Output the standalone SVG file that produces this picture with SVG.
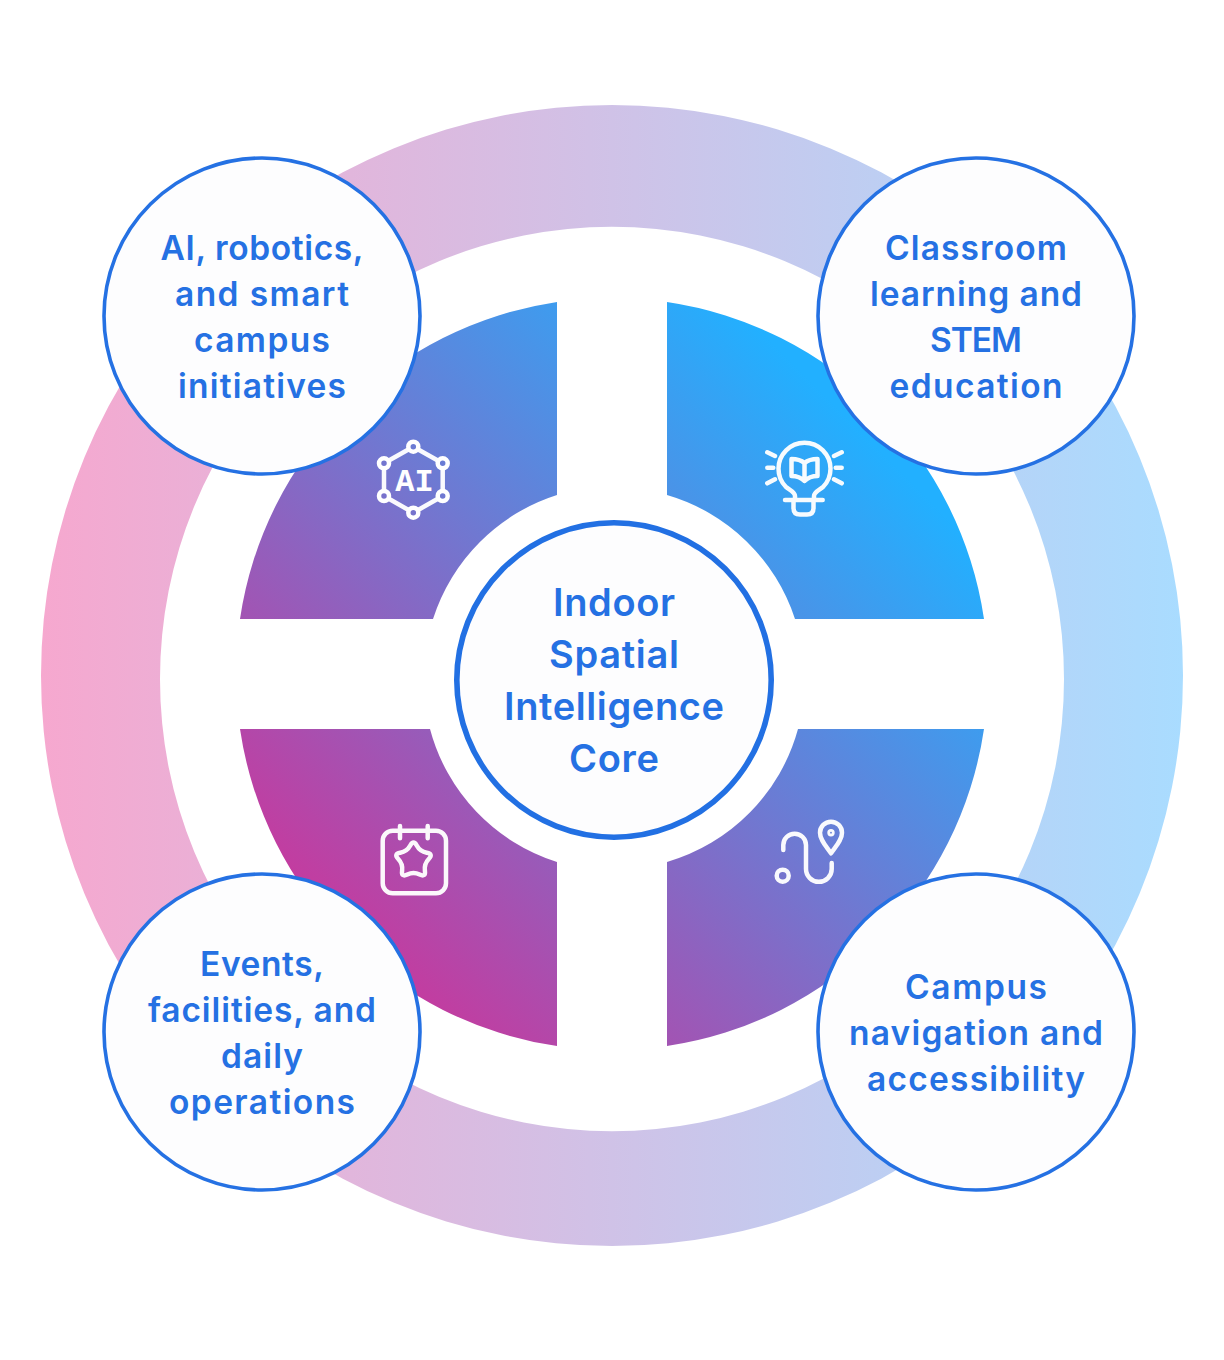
<svg xmlns="http://www.w3.org/2000/svg" width="1224" height="1360" viewBox="0 0 1224 1360">
<style>
.n{fill:#fdfdfe;stroke:#2571e3;stroke-width:3.6}
.c{fill:#fdfdfe;stroke:#2270e3;stroke-width:5.6}
text{font-family:Inter,"Noto Sans",sans-serif;font-weight:560;fill:#2571e3;text-anchor:middle}
.s{font-size:33.500px}.b{font-size:38px}
.i{fill:none;stroke:#fff;stroke-width:4.500;stroke-linecap:round;stroke-linejoin:round;opacity:.96}
</style>
<defs>
<linearGradient id="r" gradientUnits="userSpaceOnUse" x1="41" y1="0" x2="1183" y2="0"><stop offset="0" stop-color="#f6a8cf"/><stop offset="1" stop-color="#a9dcff"/></linearGradient>
<linearGradient id="q" gradientUnits="userSpaceOnUse" x1="300" y1="900" x2="815" y2="385"><stop offset="0" stop-color="#c63a9e"/><stop offset="1" stop-color="#22b0ff"/></linearGradient>
</defs>
<rect width="1224" height="1360" fill="#fff"/>
<g id="ring"><path fill="url(#r)" fill-rule="evenodd" d="M41 675.500a571 570.500 0 1 0 1142 0a571 570.500 0 1 0 -1142 0ZM160 679a452 452 0 1 1 904 0a452 452 0 1 1 -904 0Z"/></g>
<g id="quadrants" fill="url(#q)">
<path d="M557 302A376 376 0 0 0 240 619H433A191 191 0 0 1 557 495Z"/>
<path d="M667 302A376 376 0 0 1 984 619H795A191 191 0 0 0 667 495Z"/>
<path d="M240 729A376 376 0 0 0 557 1046V862A191 191 0 0 1 430 729Z"/>
<path d="M984 729A376 376 0 0 1 667 1046V862A191 191 0 0 0 798 729Z"/>
</g>
<g id="connectors"/>
<g id="icon-ai">
<path class="i" d="M413.300 446.700L442.700 463.300V496L413.300 512.700L384 496V463.300Z"/>
<g fill="url(#q)" stroke="#fff" stroke-width="4.500"><circle cx="413.300" cy="446.700" r="5"/><circle cx="442.700" cy="463.300" r="5"/><circle cx="442.700" cy="496" r="5"/><circle cx="413.300" cy="512.700" r="5"/><circle cx="384" cy="496" r="5"/><circle cx="384" cy="463.300" r="5"/></g>
<text x="414.500" y="490.700" style="font-family:'Liberation Mono',monospace;font-weight:700;font-size:32px;fill:#fff">AI</text>
</g>
<g id="icon-bulb" class="i">
<path d="M795 500V496C795 492 790 490 786 487A26 26 0 1 1 823 487C819 490 814 492 814 496V500"/>
<path d="M785 500H822.700M793.500 500V508Q793.500 514.500 800 514.500H807Q813.500 514.500 813.500 508V500"/>
<path d="M767.300 452.300L775 456M767.300 467.700H773.300M767.300 483.300L775 479.300M841.700 452.300L834 456M841.700 467.700H835.700M841.700 483.300L834 479.300"/>
<path d="M804.500 463C801 460 796 459 791.500 459V476C796 476 801 477.500 804.500 481C808 477.500 813 476 817.500 476V459C813 459 808 460 804.500 463ZM804.500 463V481"/>
</g>
<g id="icon-calendar" class="i">
<rect x="382.700" y="830.700" width="63.300" height="62.600" rx="10"/>
<path d="M400 826V838.300M427.700 826V838.300"/>
<path d="M410.250 845.550Q413.500 839.500 416.750 845.550Q420 851.600 426.750 852.800Q433.500 854 428.750 858.950Q424 863.900 424.900 870.700Q425.800 877.500 419.650 874.500Q413.500 871.500 407.350 874.500Q401.200 877.500 402.100 870.700Q403 863.900 398.250 858.950Q393.500 854 400.250 852.800Q407 851.600 410.250 845.550Z"/>
</g>
<g id="icon-route" class="i">
<circle cx="782.700" cy="875.700" r="6"/>
<path d="M783.300 850V845A11.350 11.350 0 0 1 806 845V869A12.850 12.850 0 0 0 831.700 869V863"/>
<path d="M831 853.300C826 846 820 840 820 832.700A11 11 0 0 1 842 832.700C842 840 836 846 831 853.300Z"/>
<circle cx="831" cy="832.700" r="2.300" stroke-width="2.800"/>
</g>
<g id="node-ai"><circle class="n" cx="262" cy="316" r="158"/><text class="s" x="262" y="259.700" textLength="203">AI, robotics,</text><text class="s" x="262" y="305.700" textLength="174">and smart</text><text class="s" x="262" y="351.700" textLength="136">campus</text><text class="s" x="262" y="397.700" textLength="168">initiatives</text></g>
<g id="node-classroom"><circle class="n" cx="976" cy="316" r="158"/><text class="s" x="976" y="259.700" textLength="182">Classroom</text><text class="s" x="976" y="305.700" textLength="212">learning and</text><text class="s" x="976" y="351.700" textLength="92">STEM</text><text class="s" x="976" y="397.700" textLength="173">education</text></g>
<g id="node-events"><circle class="n" cx="262" cy="1032" r="158"/><text class="s" x="262" y="975.700" textLength="124">Events,</text><text class="s" x="262" y="1021.700" textLength="228">facilities, and</text><text class="s" x="262" y="1067.700" textLength="82">daily</text><text class="s" x="262" y="1113.700" textLength="186">operations</text></g>
<g id="node-navigation"><circle class="n" cx="976" cy="1032" r="158"/><text class="s" x="976" y="998.700" textLength="142">Campus</text><text class="s" x="976" y="1044.700" textLength="254">navigation and</text><text class="s" x="976" y="1090.700" textLength="218">accessibility</text></g>
<g id="node-core"><circle class="c" cx="614" cy="680" r="157.200"/><text class="b" x="614" y="616" textLength="122">Indoor</text><text class="b" x="614" y="667.500" textLength="130">Spatial</text><text class="b" x="614" y="719.500" textLength="220">Intelligence</text><text class="b" x="614" y="771.500" textLength="90">Core</text></g>
</svg>
